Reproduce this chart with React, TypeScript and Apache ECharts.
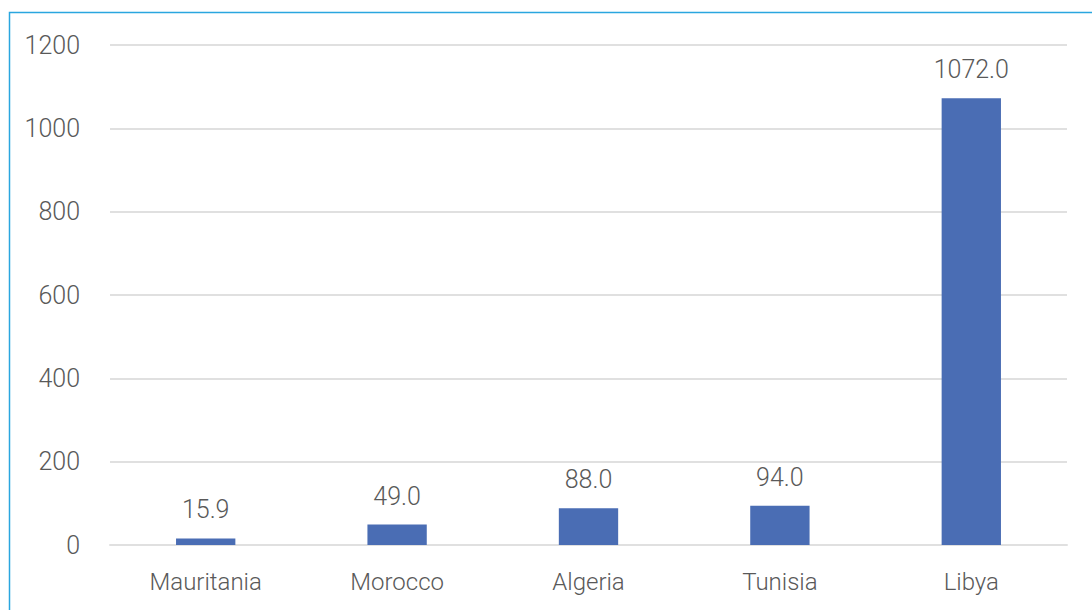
import React, { useEffect, useRef } from "react";
import * as echarts from "echarts";

const countries = ["Mauritania", "Morocco", "Algeria", "Tunisia", "Libya"];
const values = [15.9, 49.0, 88.0, 94.0, 1072.0];
const yTicks = { min: 0, max: 1200, interval: 200 };

const FONT = "Roboto, sans-serif";
const WEIGHT = 300;
const TEXT = "#595959";
const GRID = "#e0e0e0";
const BAR = "#4a6db4";

export default function App() {
  const ref = useRef<HTMLDivElement>(null);

  useEffect(() => {
    if (!ref.current) return;
    const chart = echarts.init(ref.current, undefined, { renderer: "svg" });
    chart.setOption({
      animation: false,
      backgroundColor: "#ffffff",
      grid: { left: 110, right: 25, top: 45, bottom: 65 },
      graphic: [
        {
          type: "rect",
          shape: { x: 9.5, y: 12.5, width: 1200, height: 800 },
          style: { fill: "none", stroke: "#2aa6df", lineWidth: 1.5 },
          silent: true,
        },
      ],
      xAxis: {
        type: "category",
        data: countries,
        axisTick: { show: false },
        axisLine: { show: true, lineStyle: { color: GRID, width: 2 } },
        axisLabel: {
          color: TEXT,
          fontFamily: FONT,
          fontWeight: WEIGHT,
          fontSize: 24,
          margin: 25,
        },
      },
      yAxis: {
        type: "value",
        min: yTicks.min,
        max: yTicks.max,
        interval: yTicks.interval,
        axisLine: { show: false },
        axisTick: { show: false },
        splitLine: { lineStyle: { color: GRID, width: 2 } },
        axisLabel: {
          color: TEXT,
          fontFamily: FONT,
          fontWeight: WEIGHT,
          fontSize: 25,
          margin: 30,
          formatter: (v: number) => String(v),
        },
      },
      series: [
        {
          type: "bar",
          data: values,
          barWidth: "31%",
          itemStyle: { color: BAR },
          label: {
            show: true,
            position: "top",
            distance: 16,
            color: TEXT,
            fontFamily: FONT,
            fontWeight: WEIGHT,
            fontSize: 25,
            formatter: (p: any) => Number(p.value).toFixed(1),
          },
        },
      ],
    });
    return () => chart.dispose();
  }, []);

  return (
    <div
      ref={ref}
      style={{ position: "fixed", left: 0, top: 0, width: 1092, height: 610 }}
    />
  );
}
